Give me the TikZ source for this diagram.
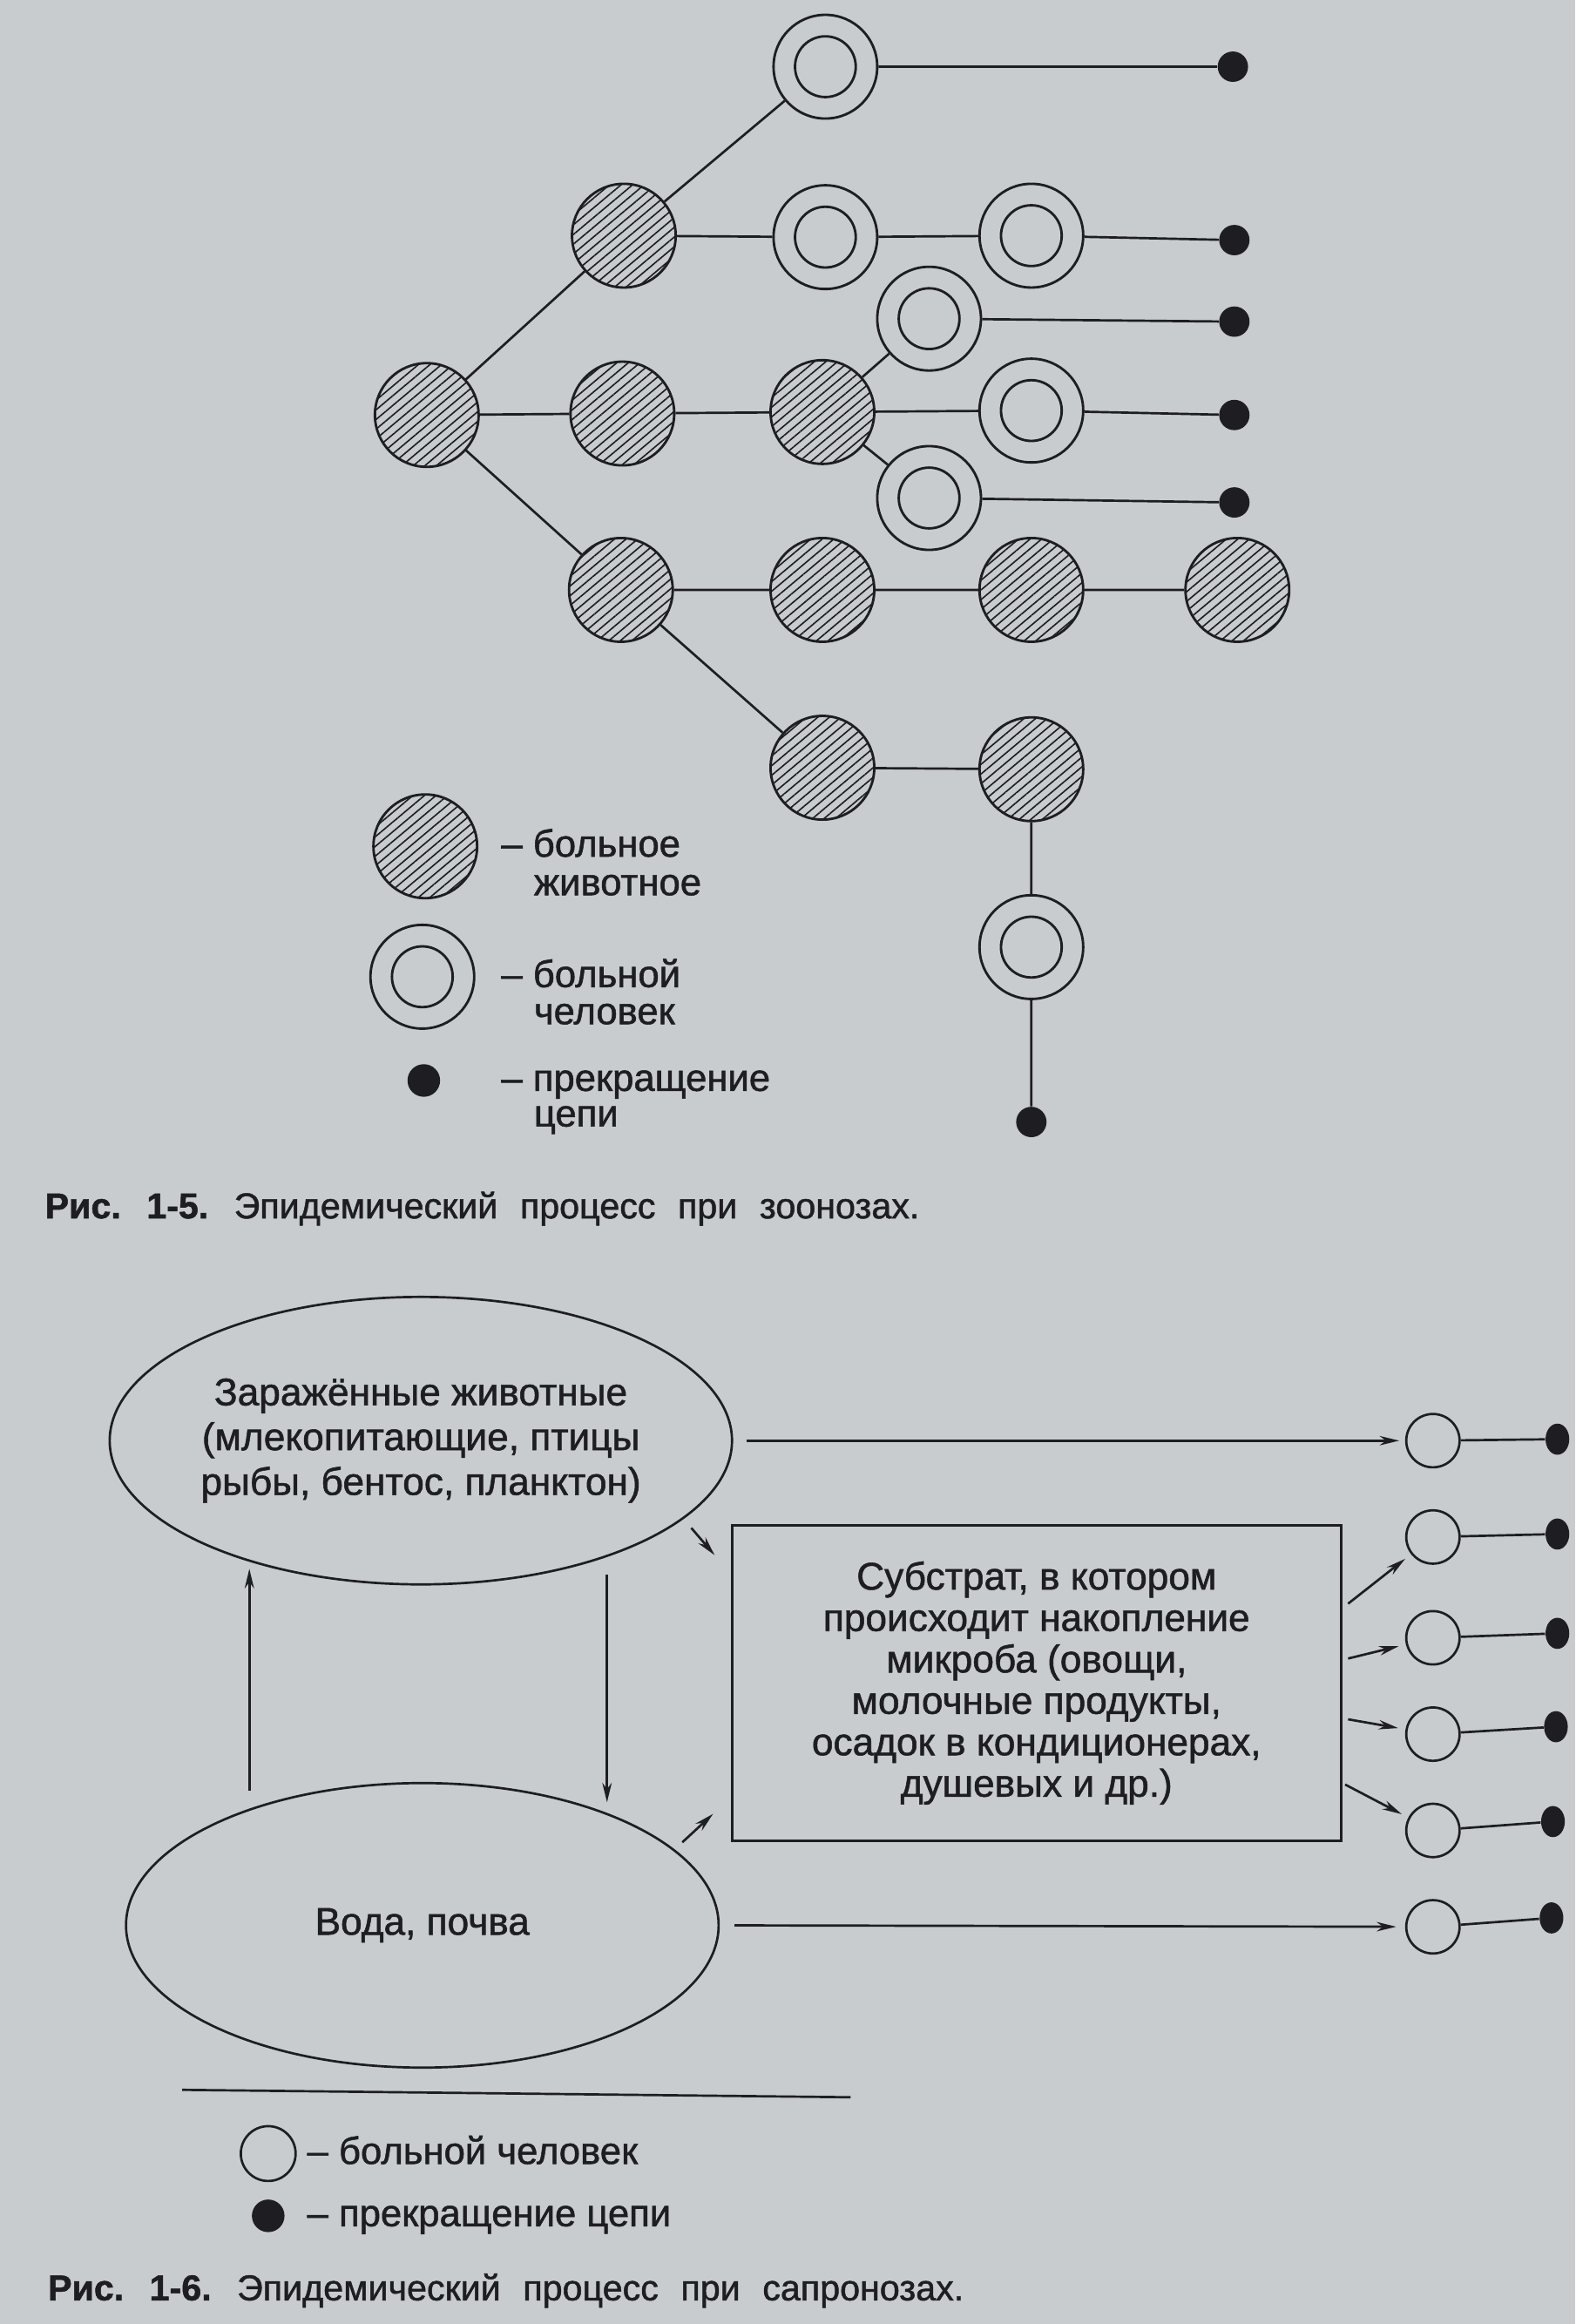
\documentclass[tikz,border=0pt]{standalone}
\usepackage{fontspec}
\setmainfont{Liberation Sans}[FakeBold=1.2]
\usetikzlibrary{shapes.geometric,patterns.meta,arrows.meta}
\definecolor{paper}{RGB}{201,204,206}
\definecolor{ink}{RGB}{30,30,34}
\newcommand{\widesp}{\spaceskip=0.62em\relax}
\begin{document}
\begin{tikzpicture}[x=0.02cm,y=-0.02cm,
  animal/.style={circle, draw=ink, line width=0.95pt, minimum size=1.4cm, inner sep=0pt,
    pattern={Lines[angle=40,distance=2.85pt,line width=0.55pt]}, pattern color=ink},
  human/.style={circle, draw=ink, line width=0.95pt, minimum size=1.4cm, inner sep=0pt,
    path picture={\draw[ink,line width=0.95pt] (path picture bounding box.center) circle[radius=0.41cm];}},
  stopdot/.style={circle, fill=ink, minimum size=0.41cm, inner sep=0pt},
  link/.style={draw=ink, line width=0.9pt},
  arr/.style={draw=ink, line width=0.9pt, -{Stealth[length=7.5pt,width=3.6pt]}},
  lbl/.style={font=\fontsize{14.6pt}{14.6pt}\selectfont, text=ink, inner sep=0pt, anchor=base west},
  captext/.style={font=\fontsize{13.8pt}{16pt}\selectfont, text=ink, inner sep=0pt, anchor=base west},
  ell/.style={ellipse, draw=ink, line width=0.9pt, inner sep=0pt, align=center, text=ink,
    font=\fontsize{14.8pt}{17.2pt}\selectfont},
  sbox/.style={rectangle, draw=ink, line width=0.9pt, inner sep=0pt, align=center, text=ink,
    minimum width=8.22cm, minimum height=4.26cm, font=\fontsize{14.8pt}{15.9pt}\selectfont},
  pc/.style={circle, draw=ink, line width=0.9pt, minimum size=0.72cm, inner sep=0pt},
  pd/.style={ellipse, fill=ink, minimum width=0.32cm, minimum height=0.42cm, inner sep=0pt}
]
\fill[paper] (0,0) rectangle (1063,1568);
\useasboundingbox (0,0) rectangle (1063,1568);

% ---------- Fig 1-5 ----------
\node[animal] (A) at (288,280) {};
\node[animal] (B1) at (421,159) {};
\node[animal] (B2) at (420,279) {};
\node[animal] (B3) at (419,398) {};
\node[animal] (C1) at (555,278) {};
\node[animal] (C2) at (555,398) {};
\node[animal] (C3) at (555,518) {};
\node[animal] (D1) at (696,398) {};
\node[animal] (D2) at (696,519) {};
\node[animal] (F1) at (835,398) {};
\node[human] (H1) at (557,45) {};
\node[human] (H2) at (557,160) {};
\node[human] (H3) at (696,159) {};
\node[human] (H4) at (627,215) {};
\node[human] (H5) at (696,277) {};
\node[human] (H6) at (627,336) {};
\node[human] (H7) at (696,639) {};
\node[stopdot] (S1) at (832,45) {};
\node[stopdot] (S2) at (833,162) {};
\node[stopdot] (S3) at (833,217) {};
\node[stopdot] (S4) at (833,280) {};
\node[stopdot] (S5) at (833,339) {};
\node[stopdot] (S6) at (696,757) {};

\draw[link] (A)--(B1) (B1)--(H1) (H1)--(S1)
  (B1)--(H2) (H2)--(H3) (H3)--(S2)
  (A)--(B2) (B2)--(C1)
  (C1)--(H4) (H4)--(S3)
  (C1)--(H5) (H5)--(S4)
  (C1)--(H6) (H6)--(S5)
  (A)--(B3) (B3)--(C2) (C2)--(D1) (D1)--(F1)
  (B3)--(C3) (C3)--(D2) (D2)--(H7) (H7)--(S6);

% legend
\node[animal] (LA) at (287,571) {};
\node[human] (LH) at (285,659) {};
\node[stopdot, minimum size=0.44cm] (LS) at (286,729) {};
\node[lbl] (LA1) at (338,578) {– больное};
\node[lbl] (LA2) at (360,604) {животное};
\node[lbl] (LH1) at (338,666) {– больной};
\node[lbl] (LH2) at (360,691) {человек};
\node[lbl] (LS1) at (338,736) {– прекращение};
\node[lbl] (LS2) at (360,760) {цепи};

\node[captext] (cap1) at (30,822) {\widesp\textbf{Рис. 1-5.} Эпидемический процесс при зоонозах.};

% ---------- Fig 1-6 ----------
\node[ell, minimum width=8.08cm, minimum height=3.88cm] (Zh) at (284,972)
  {Заражённые животные\\(млекопитающие, птицы\\рыбы, бентос, планктон)};
\node[ell, minimum width=8cm, minimum height=3.84cm] (Wa) at (285,1299) {Вода, почва};
\node[sbox] (R) at (699.5,1135.5)
  {Субстрат, в котором\\происходит накопление\\микроба (овощи,\\молочные продукты,\\осадок в кондиционерах,\\душевых и др.)};

\node[pc] (P1) at (967,972) {};
\node[pc] (P2) at (967,1037) {};
\node[pc] (P3) at (967,1105) {};
\node[pc] (P4) at (967,1170) {};
\node[pc] (P5) at (967,1235) {};
\node[pc] (P6) at (967,1300) {};
\node[pd] (Q1) at (1051,971) {};
\node[pd] (Q2) at (1051,1035) {};
\node[pd] (Q3) at (1051,1102) {};
\node[pd] (Q4) at (1050,1165) {};
\node[pd] (Q5) at (1048,1229) {};
\node[pd] (Q6) at (1047,1294) {};
\draw[link] (P1)--(Q1) (P2)--(Q2) (P3)--(Q3) (P4)--(Q4) (P5)--(Q5) (P6)--(Q6);

\draw[arr, shorten <=0.18cm, shorten >=0.08cm] (Zh.east) -- (P1);
\draw[arr, shorten <=0.2cm, shorten >=0.12cm] (Wa.east) -- (P6);
\draw[arr, shorten >=0.1cm] ([shift={(4,-53.5)}]R.east) -- (P2);
\draw[arr, shorten >=0.1cm] ([shift={(4,-16.5)}]R.east) -- (P3);
\draw[arr, shorten >=0.1cm] ([shift={(4,24.5)}]R.east) -- (P4);
\draw[arr, shorten >=0.1cm] ([shift={(2,68.5)}]R.east) -- (P5);

\draw[arr, shorten <=0.24cm, shorten >=0.1cm] (Wa.146) -- (Wa.146 |- Zh.215);
\draw[arr, shorten <=0.24cm, shorten >=0.15cm] (Zh.328) -- (Zh.328 |- Wa.31);

\draw[arr] ([shift={(0,10)}]Zh.345) -- ([shift={(-11,21)}]R.north west);
\draw[arr] ([shift={(0,-9)}]Wa.15) -- ([shift={(-12,-19)}]R.south west);

\coordinate (sepL) at (123,1410);
\coordinate (sepR) at (574,1415);
\draw[link] (sepL) -- (sepR);

% legend
\node[pc, minimum size=0.74cm] (LP) at (181,1453) {};
\node[stopdot, minimum size=0.44cm] (LQ) at (181,1495) {};
\node[lbl] (LP1) at (207,1460) {– больной человек};
\node[lbl] (LQ1) at (207,1502) {– прекращение цепи};

\node[captext] (cap2) at (32,1552) {\widesp\textbf{Рис. 1-6.} Эпидемический процесс при сапронозах.};
\end{tikzpicture}
\end{document}
